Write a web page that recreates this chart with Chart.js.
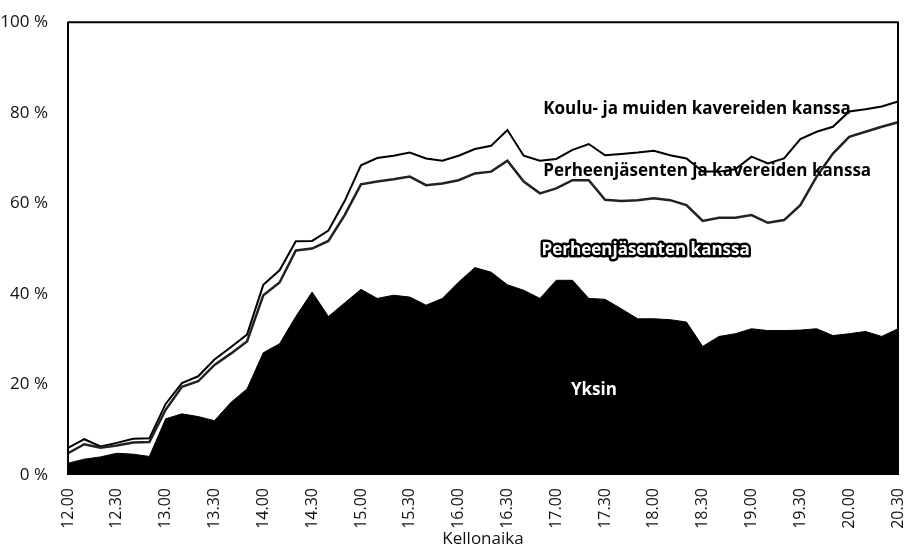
<!DOCTYPE html>
<html>
<head>
<meta charset="utf-8">
<script src="https://cdn.jsdelivr.net/npm/chart.js@4.4.1/dist/chart.umd.min.js"></script>
<style>
  html, body { margin: 0; padding: 0; background: #fff; }
  #wrap { width: 910px; height: 557px; }
</style>
</head>
<body>
<div id="wrap"><canvas id="chart" width="910" height="557"></canvas></div>
<script>
// kellonajat 10 min välein, 12.00 - 20.30
var times = [
    '12.00', '12.10', '12.20', '12.30', '12.40', '12.50',
    '13.00', '13.10', '13.20', '13.30', '13.40', '13.50',
    '14.00', '14.10', '14.20', '14.30', '14.40', '14.50',
    '15.00', '15.10', '15.20', '15.30', '15.40', '15.50',
    '16.00', '16.10', '16.20', '16.30', '16.40', '16.50',
    '17.00', '17.10', '17.20', '17.30', '17.40', '17.50',
    '18.00', '18.10', '18.20', '18.30', '18.40', '18.50',
    '19.00', '19.10', '19.20', '19.30', '19.40', '19.50',
    '20.00', '20.10', '20.20', '20.30'
];

// yksin (%)
var yksin = [
    2.6, 3.5, 4.0, 4.8, 4.6, 4.1,
    12.4, 13.5, 12.9, 12.0, 16.0, 19.0,
    27.0, 29.0, 35.0, 40.4, 35.0, 38.0,
    41.0, 39.0, 39.7, 39.3, 37.5, 39.0,
    42.6, 45.8, 44.8, 42.0, 40.8, 39.0,
    43.0, 43.0, 39.0, 38.8, 36.7, 34.5,
    34.5, 34.3, 33.8, 28.4, 30.6, 31.2,
    32.3, 31.9, 31.9, 32.0, 32.3, 30.8,
    31.2, 31.7, 30.6, 32.3
];

// yksin + perheenjäsenten kanssa (kertymä, %)
var perheKertyma = [
    4.8, 6.8, 6.0, 6.5, 7.2, 7.3,
    14.4, 19.5, 20.7, 24.3, 26.8, 29.5,
    39.7, 42.5, 49.6, 50.0, 51.7, 57.4,
    64.2, 64.8, 65.3, 65.9, 64.0, 64.4,
    65.1, 66.6, 67.0, 69.4, 64.8, 62.2,
    63.3, 65.1, 65.1, 60.8, 60.5, 60.7,
    61.1, 60.7, 59.6, 56.1, 56.8, 56.8,
    57.4, 55.7, 56.3, 59.6, 65.9, 71.0,
    74.7, 75.8, 76.9, 77.9
];

// + perheenjäsenten ja kavereiden kanssa (kertymä, %)
var kaveriKertyma = [
    6.0, 7.9, 6.3, 7.1, 8.0, 8.1,
    15.7, 20.3, 21.8, 25.5, 28.2, 31.0,
    42.0, 45.2, 51.6, 51.7, 54.0, 60.5,
    68.4, 70.0, 70.5, 71.2, 69.9, 69.4,
    70.5, 72.0, 72.7, 76.2, 70.5, 69.4,
    69.8, 71.8, 73.1, 70.6, 70.9, 71.2,
    71.6, 70.6, 69.9, 67.0, 67.0, 67.5,
    70.3, 68.8, 69.9, 74.2, 75.8, 76.9,
    80.3, 80.8, 81.4, 82.5
];

var yTicks = [0, 20, 40, 60, 80, 100];

// sarjojen nimet kuvassa: [teksti, x-indeksi, arvo, tyyli]
var seriesLabels = [
    ['Koulu- ja muiden kavereiden kanssa', 29.2, 80.8, 'black'],
    ['Perheenjäsenten ja kavereiden kanssa', 29.2, 67.0, 'black'],
    ['Perheenjäsenten kanssa', 29.1, 49.7, 'outline'],
    ['Yksin', 30.9, 18.8, 'white']
];

var FONT = "'Open Sans', 'DejaVu Sans', sans-serif";

var frameAndLabels = {
    id: 'frameAndLabels',
    afterDatasetsDraw: function (chart) {
        var ctx = chart.ctx;
        var a = chart.chartArea;
        var xs = chart.scales.x, ys = chart.scales.y;
        ctx.save();
        ctx.textBaseline = 'middle';
        ctx.textAlign = 'left';
        ctx.font = 'bold 17px ' + FONT;
        seriesLabels.forEach(function (l) {
            var px = xs.getPixelForValue(l[1]);
            var py = ys.getPixelForValue(l[2]);
            if (l[3] === 'outline') {
                ctx.lineJoin = 'round';
                ctx.lineWidth = 5;
                ctx.strokeStyle = '#000';
                ctx.strokeText(l[0], px, py);
                ctx.fillStyle = '#fff';
            } else if (l[3] === 'white') {
                ctx.fillStyle = '#fff';
            } else {
                ctx.fillStyle = '#000';
            }
            ctx.fillText(l[0], px, py);
        });
        // kehys
        ctx.strokeStyle = '#000';
        ctx.lineWidth = 2;
        ctx.beginPath();
        ctx.moveTo(a.left, a.bottom);
        ctx.lineTo(a.left, a.top);
        ctx.lineTo(a.right, a.top);
        ctx.lineTo(a.right, a.bottom);
        ctx.stroke();
        ctx.restore();
    }
};

var ctx = document.getElementById('chart').getContext('2d');

var myChart = new Chart(ctx, {
    type: 'line',
    data: {
        labels: times,
        datasets: [{
            label: 'Yksin',
            data: yksin,
            fill: 'origin',
            backgroundColor: '#000',
            borderColor: '#000',
            borderWidth: 1
        }, {
            label: 'Perheenjäsenten kanssa',
            data: perheKertyma,
            fill: '-1',
            backgroundColor: '#fff',
            borderColor: '#222',
            borderWidth: 2.5
        }, {
            label: 'Perheenjäsenten ja kavereiden kanssa',
            data: kaveriKertyma,
            fill: '-1',
            backgroundColor: '#fff',
            borderColor: '#000',
            borderWidth: 2
        }]
    },
    options: {
        responsive: false,
        animation: false,
        layout: { padding: { top: 17, right: 12, left: 0, bottom: 0 } },
        elements: {
            point: { radius: 0 },
            line: { tension: 0 }
        },
        plugins: {
            legend: { display: false },
            tooltip: { enabled: false }
        },
        scales: {
            x: {
                offset: false,
                grid: { display: false },
                border: { display: false },
                ticks: {
                    autoSkip: false,
                    maxRotation: 90,
                    minRotation: 90,
                    padding: 5,
                    color: '#111',
                    font: { family: FONT, size: 16 },
                    callback: function (v, i) {
                        return i % 3 === 0 ? times[i] : null;
                    }
                },
                title: {
                    display: true,
                    text: 'Kellonaika',
                    color: '#111',
                    font: { family: FONT, size: 17 },
                    padding: { top: 4, bottom: 8 }
                },
                afterFit: function (scale) {
                    scale.height = 82;
                    scale.paddingLeft = 0;
                    scale.paddingRight = 0;
                }
            },
            y: {
                min: 0,
                max: 100,
                grid: { display: false },
                border: { display: false },
                afterBuildTicks: function (scale) {
                    scale.ticks = yTicks.map(function (v) { return { value: v }; });
                },
                ticks: {
                    padding: 12,
                    color: '#111',
                    font: { family: FONT, size: 17 },
                    callback: function (v) { return v + ' %'; }
                },
                afterFit: function (scale) { scale.width = 68; }
            }
        }
    },
    plugins: [frameAndLabels]
});
</script>
</body>
</html>
